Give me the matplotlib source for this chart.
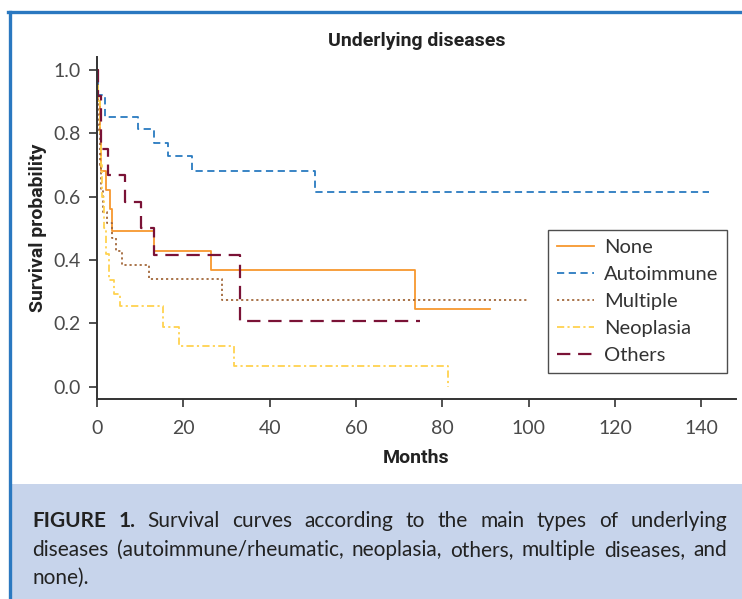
import numpy as np
import matplotlib
matplotlib.use('Agg')
from matplotlib import pyplot as plt
from matplotlib.patches import Rectangle
from matplotlib.lines import Line2D

# survival curves (months, probability)
none_t = [0, 0.3, 0.6, 1.0, 2.0, 3.0, 3.4, 13.3, 26.3, 73.6, 91.0]
none_s = [1.0, 0.9, 0.8, 0.68, 0.62, 0.56, 0.49, 0.43, 0.37, 0.246, 0.246]

auto_t = [0, 0.3, 1.9, 9.5, 13.3, 16.4, 22.1, 50.4, 141.8]
auto_s = [1.0, 0.92, 0.851, 0.813, 0.769, 0.727, 0.681, 0.614, 0.614]

mult_t = [0, 0.2, 0.4, 0.7, 1.0, 1.4, 2.3, 3.5, 4.5, 5.8, 12.0, 29.0, 99.5]
mult_s = [1.0, 0.9, 0.8, 0.7, 0.62, 0.55, 0.516, 0.47, 0.428, 0.384, 0.34, 0.273, 0.273]

neo_t = [0, 0.3, 0.6, 0.9, 1.2, 1.6, 2.2, 2.8, 3.9, 5.4, 15.3, 19.1, 31.7, 81.3]
neo_s = [1.0, 0.9, 0.8, 0.7, 0.6, 0.5, 0.42, 0.336, 0.294, 0.254, 0.19, 0.128, 0.065, 0.0]

oth_t = [0, 0.2, 1.0, 2.5, 6.4, 10.2, 13.3, 33.1, 74.9]
oth_s = [1.0, 0.917, 0.75, 0.667, 0.583, 0.5, 0.417, 0.208, 0.208]

labels = ['None', 'Autoimmune', 'Multiple', 'Neoplasia', 'Others']
x_ticks = [0, 20, 40, 60, 80, 100, 120, 140]
x_tick_labels = ['0', '20', '40', '60', '80', '100', '120', '140']
y_ticks = [0.0, 0.2, 0.4, 0.6, 0.8, 1.0]

caption_lines = [
    ['FIGURE', '1.', 'Survival', 'curves', 'according', 'to', 'the', 'main', 'types', 'of', 'underlying'],
    ['diseases', '(autoimmune/rheumatic,', 'neoplasia,', 'others,', 'multiple', 'diseases,', 'and'],
    ['none).'],
]

fig = plt.figure(figsize=(7.42, 5.99), dpi=100)
W, H = 742, 599

def fx(px):
    return px / W

def fy(py):
    return 1 - py / H

# frame + caption box
fig.patches.append(Rectangle((fx(10), 0), 1, fy(484), transform=fig.transFigure,
                             facecolor='#C7D4EB', edgecolor='none', zorder=0))
fig.lines.append(Line2D([fx(9.5), fx(9.5)], [0, fy(12)], transform=fig.transFigure,
                        color='#2A78C0', lw=2.4))
fig.lines.append(Line2D([fx(8.3), 1], [fy(12), fy(12)], transform=fig.transFigure,
                        color='#2A78C0', lw=2.4))

ax = fig.add_axes([fx(97), fy(399), fx(736) - fx(97), fy(57) - fy(399)])

ax.step(none_t, none_s, where='post', color='#F7972E', lw=1.3, label=labels[0])
ax.step(auto_t, auto_s, where='post', color='#2A7BC0', lw=1.3, dashes=(4, 2.5), label=labels[1])
ax.step(mult_t, mult_s, where='post', color='#A3683A', lw=1.3, dashes=(1.2, 1.6), label=labels[2])
ax.step(neo_t, neo_s, where='post', color='#FFD24F', lw=1.3, dashes=(4, 1.8, 1.2, 1.8), label=labels[3])
ax.step(oth_t, oth_s, where='post', color='#7A1236', lw=1.6, dashes=(6, 3.5), label=labels[4])

ax.set_xlim(0, 148)
ax.set_ylim(-0.038, 1.04)
ax.set_xticks(x_ticks)
ax.set_xticklabels(x_tick_labels)
ax.set_yticks(y_ticks)
ax.set_yticklabels(['%.1f' % v for v in y_ticks])

for s in ['top', 'right']:
    ax.spines[s].set_visible(False)
for s in ['left', 'bottom']:
    ax.spines[s].set_color('#333333')
    ax.spines[s].set_linewidth(1.4)
ax.tick_params(direction='out', length=6, width=1.2, color='#333333',
               labelsize=14, labelcolor='#4a4a4a', pad=6)
ax.tick_params(axis='x', pad=9)
for lab in ax.get_xticklabels() + ax.get_yticklabels():
    lab.set_family('Lato')

ax.set_title('Underlying diseases', fontsize=14, fontweight='bold', family='Roboto',
             color='#222222', pad=8)
ax.set_xlabel('Months', fontsize=14, fontweight='bold', family='Roboto', color='#222222', labelpad=9)
ax.set_ylabel('Survival probability', fontsize=14, fontweight='bold', family='Roboto',
              color='#222222', labelpad=4)

leg = ax.legend(loc='upper right', bbox_to_anchor=(1.002, 0.525),
                prop={'family': 'Lato', 'size': 14.5},
                frameon=True, fancybox=False, edgecolor='#222222', handlelength=1.8,
                labelspacing=0.5, borderpad=0.45, handletextpad=0.5)
leg.get_frame().set_linewidth(1.0)
for t in leg.get_texts():
    t.set_color('#333333')

# justified caption
renderer = fig.canvas.get_renderer()
left_px, right_px = 32, 727
line_y = [521, 550, 578]
for i, words in enumerate(caption_lines):
    texts = []
    for j, w in enumerate(words):
        bold = (i == 0 and j < 2)
        t = fig.text(0, fy(line_y[i]), w, fontsize=15, family='Lato',
                     fontweight='bold' if bold else 'normal', color='#222222', va='center')
        texts.append(t)
    widths = [t.get_window_extent(renderer).width for t in texts]
    if len(texts) > 1 and i < len(caption_lines) - 1:
        gap = (right_px - left_px - sum(widths)) / (len(texts) - 1)
    else:
        gap = 4
    x = left_px
    for t, w in zip(texts, widths):
        t.set_x(fx(x))
        x += w + gap

fig.savefig('out.png', dpi=100)
